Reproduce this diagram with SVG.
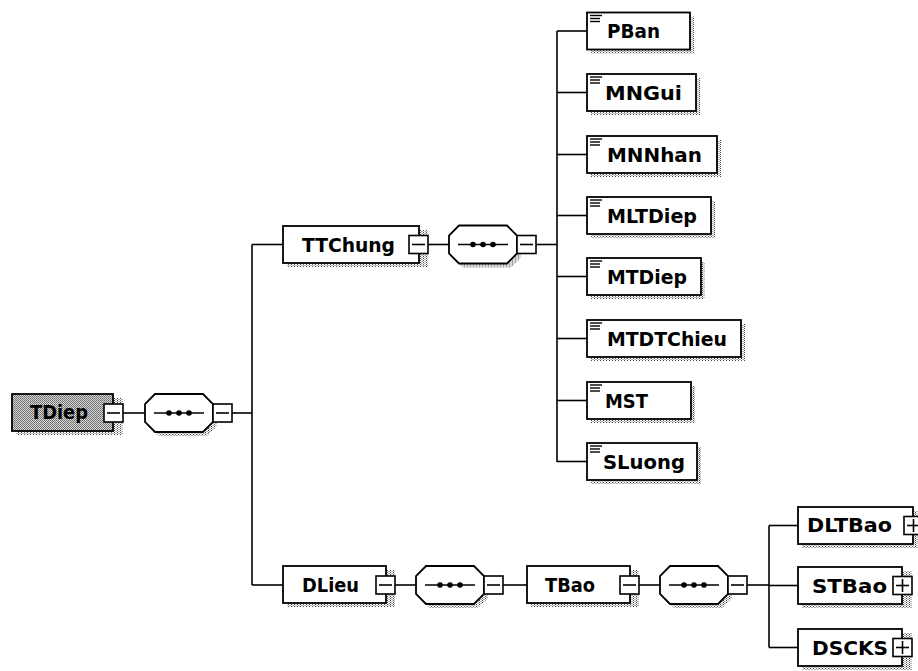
<svg xmlns="http://www.w3.org/2000/svg" width="918" height="671" viewBox="0 0 918 671">
<defs>
<pattern id="shade" width="3" height="2" patternUnits="userSpaceOnUse">
<rect x="0" y="0" width="1" height="1" fill="#444"/>
<rect x="1.5" y="1" width="1" height="1" fill="#666"/>
</pattern>
<pattern id="gray" width="2" height="2" patternUnits="userSpaceOnUse">
<rect width="2" height="2" fill="#d8d8d8"/>
<rect x="0" y="0" width="1" height="1" fill="#6a6a6a"/>
<rect x="1" y="1" width="1" height="1" fill="#7a7a7a"/>
</pattern>
<g id="seq">
<polygon fill="url(#shade)" points="14,4 62,4 72,14 72,32 62,42 14,42 4,32 4,14"/>
<polygon fill="#fff" stroke="#000" stroke-width="1.8" points="10,0 58,0 68,10 68,28 58,38 10,38 0,28 0,10"/>
<line stroke="#000" stroke-width="1.6" x1="9" y1="19" x2="59" y2="19"/>
<circle cx="24" cy="19" r="2.8" fill="#000"/>
<circle cx="34" cy="19" r="2.8" fill="#000"/>
<circle cx="44" cy="19" r="2.8" fill="#000"/>
<rect fill="#fff" stroke="#000" stroke-width="1.6" x="68" y="10" width="19" height="18"/>
<line stroke="#000" stroke-width="1.6" x1="71" y1="19" x2="84" y2="19"/>
</g>
<g id="icon" stroke="#000" stroke-width="1.4">
<line x1="3" y1="3" x2="15" y2="3"/>
<line x1="3" y1="6" x2="13" y2="6"/>
<line x1="3" y1="9" x2="13" y2="9"/>
</g>
</defs>
<style>
.box{fill:#fff;stroke:#000;stroke-width:1.8}
.gbox{fill:url(#gray);stroke:#000;stroke-width:1.8}
.shadow{fill:url(#shade);stroke:none}
.btn{fill:#fff;stroke:#000;stroke-width:1.6}
.c{stroke:#000;stroke-width:1.6;fill:none}
text{font-family:"DejaVu Sans","Liberation Sans",sans-serif;font-weight:bold;font-size:19px;fill:#000}
</style>
<g id="connectors" class="c">
<line x1="123" y1="413" x2="145" y2="413"/>
<line x1="232" y1="413" x2="252" y2="413"/>
<line x1="252" y1="244.5" x2="252" y2="585"/>
<line x1="252" y1="244.5" x2="283" y2="244.5"/>
<line x1="252" y1="585" x2="283" y2="585"/>
<line x1="428" y1="244.5" x2="449" y2="244.5"/>
<line x1="536" y1="244.5" x2="557" y2="244.5"/>
<line x1="557" y1="31" x2="557" y2="462"/>
<line x1="557" y1="31" x2="587" y2="31"/>
<line x1="557" y1="92.5" x2="587" y2="92.5"/>
<line x1="557" y1="154.5" x2="587" y2="154.5"/>
<line x1="557" y1="215.5" x2="587" y2="215.5"/>
<line x1="557" y1="276.5" x2="587" y2="276.5"/>
<line x1="557" y1="338.5" x2="587" y2="338.5"/>
<line x1="557" y1="400.5" x2="587" y2="400.5"/>
<line x1="557" y1="461.5" x2="587" y2="461.5"/>
<line x1="395" y1="585" x2="416" y2="585"/>
<line x1="503" y1="585" x2="527" y2="585"/>
<line x1="639" y1="585" x2="660" y2="585"/>
<line x1="747" y1="585" x2="769" y2="585"/>
<line x1="769" y1="525.5" x2="769" y2="647.5"/>
<line x1="769" y1="525.5" x2="798" y2="525.5"/>
<line x1="769" y1="585.5" x2="798" y2="585.5"/>
<line x1="769" y1="647.5" x2="798" y2="647.5"/>
</g>
<g id="TDiep">
<rect class="shadow" x="16" y="398" width="107" height="37"/>
<rect class="gbox" x="12" y="394" width="101" height="37"/>
<rect class="btn" x="104" y="404" width="19" height="18"/>
<line class="c" x1="107" y1="413" x2="120" y2="413"/>
<text x="30" y="419" textLength="58" lengthAdjust="spacingAndGlyphs">TDiep</text>
</g>
<g id="seq1"><use href="#seq" x="145" y="394"/></g>
<g id="TTChung">
<rect class="shadow" x="287" y="230" width="141" height="37"/>
<rect class="box" x="283" y="226" width="136" height="37"/>
<rect class="btn" x="409" y="235.5" width="19" height="18"/>
<line class="c" x1="412" y1="244.5" x2="425" y2="244.5"/>
<text x="302" y="252" textLength="93" lengthAdjust="spacingAndGlyphs">TTChung</text>
</g>
<g id="seq2"><use href="#seq" x="449" y="225.5"/></g>
<g id="PBan">
<rect class="shadow" x="591" y="16.5" width="103" height="37"/>
<rect class="box" x="587" y="12.5" width="103" height="37"/>
<use href="#icon" x="587" y="12.5"/>
<text x="607" y="38" textLength="53" lengthAdjust="spacingAndGlyphs">PBan</text>
</g>
<g id="MNGui">
<rect class="shadow" x="591" y="78" width="109" height="37"/>
<rect class="box" x="587" y="74" width="109" height="37"/>
<use href="#icon" x="587" y="74"/>
<text x="605" y="100" textLength="77" lengthAdjust="spacingAndGlyphs">MNGui</text>
</g>
<g id="MNNhan">
<rect class="shadow" x="591" y="140" width="130" height="37"/>
<rect class="box" x="587" y="136" width="130" height="37"/>
<use href="#icon" x="587" y="136"/>
<text x="607" y="162" textLength="95" lengthAdjust="spacingAndGlyphs">MNNhan</text>
</g>
<g id="MLTDiep">
<rect class="shadow" x="591" y="201" width="124" height="37"/>
<rect class="box" x="587" y="197" width="124" height="37"/>
<use href="#icon" x="587" y="197"/>
<text x="607" y="223" textLength="90" lengthAdjust="spacingAndGlyphs">MLTDiep</text>
</g>
<g id="MTDiep">
<rect class="shadow" x="591" y="262" width="114" height="37"/>
<rect class="box" x="587" y="258" width="114" height="37"/>
<use href="#icon" x="587" y="258"/>
<text x="607" y="284" textLength="80" lengthAdjust="spacingAndGlyphs">MTDiep</text>
</g>
<g id="MTDTChieu">
<rect class="shadow" x="591" y="324" width="154" height="37"/>
<rect class="box" x="587" y="320" width="154" height="37"/>
<use href="#icon" x="587" y="320"/>
<text x="607" y="346" textLength="120" lengthAdjust="spacingAndGlyphs">MTDTChieu</text>
</g>
<g id="MST">
<rect class="shadow" x="591" y="386" width="104" height="37"/>
<rect class="box" x="587" y="382" width="104" height="37"/>
<use href="#icon" x="587" y="382"/>
<text x="605" y="408" textLength="43" lengthAdjust="spacingAndGlyphs">MST</text>
</g>
<g id="SLuong">
<rect class="shadow" x="591" y="447" width="110" height="37"/>
<rect class="box" x="587" y="443" width="110" height="37"/>
<use href="#icon" x="587" y="443"/>
<text x="603" y="469" textLength="82" lengthAdjust="spacingAndGlyphs">SLuong</text>
</g>
<g id="DLieu">
<rect class="shadow" x="287" y="570" width="108" height="37"/>
<rect class="box" x="283" y="566" width="103" height="37"/>
<rect class="btn" x="376" y="576" width="19" height="18"/>
<line class="c" x1="379" y1="585" x2="392" y2="585"/>
<text x="302" y="592" textLength="57" lengthAdjust="spacingAndGlyphs">DLieu</text>
</g>
<g id="seq3"><use href="#seq" x="416" y="566"/></g>
<g id="TBao">
<rect class="shadow" x="531" y="570" width="108" height="37"/>
<rect class="box" x="527" y="566" width="103" height="37"/>
<rect class="btn" x="620" y="576" width="19" height="18"/>
<line class="c" x1="623" y1="585" x2="636" y2="585"/>
<text x="545" y="592" textLength="50" lengthAdjust="spacingAndGlyphs">TBao</text>
</g>
<g id="seq4"><use href="#seq" x="660" y="566"/></g>
<g id="DLTBao">
<rect class="shadow" x="802" y="511" width="116" height="37"/>
<rect class="box" x="798" y="507" width="115" height="37"/>
<rect class="btn" x="904" y="516.5" width="19" height="18"/>
<line class="c" x1="907" y1="525.5" x2="920" y2="525.5"/>
<line class="c" x1="913.5" y1="519" x2="913.5" y2="532"/>
<text x="807" y="532" textLength="85" lengthAdjust="spacingAndGlyphs">DLTBao</text>
</g>
<g id="STBao">
<rect class="shadow" x="802" y="571" width="110" height="37"/>
<rect class="box" x="798" y="567" width="104" height="37"/>
<rect class="btn" x="893" y="576.5" width="19" height="18"/>
<line class="c" x1="896" y1="585.5" x2="909" y2="585.5"/>
<line class="c" x1="902.5" y1="579" x2="902.5" y2="592"/>
<text x="812" y="593" textLength="75" lengthAdjust="spacingAndGlyphs">STBao</text>
</g>
<g id="DSCKS">
<rect class="shadow" x="802" y="633" width="110" height="37"/>
<rect class="box" x="798" y="629" width="104" height="37"/>
<rect class="btn" x="893" y="638.5" width="19" height="18"/>
<line class="c" x1="896" y1="647.5" x2="909" y2="647.5"/>
<line class="c" x1="902.5" y1="641" x2="902.5" y2="654"/>
<text x="812" y="655" textLength="76" lengthAdjust="spacingAndGlyphs">DSCKS</text>
</g>
</svg>
